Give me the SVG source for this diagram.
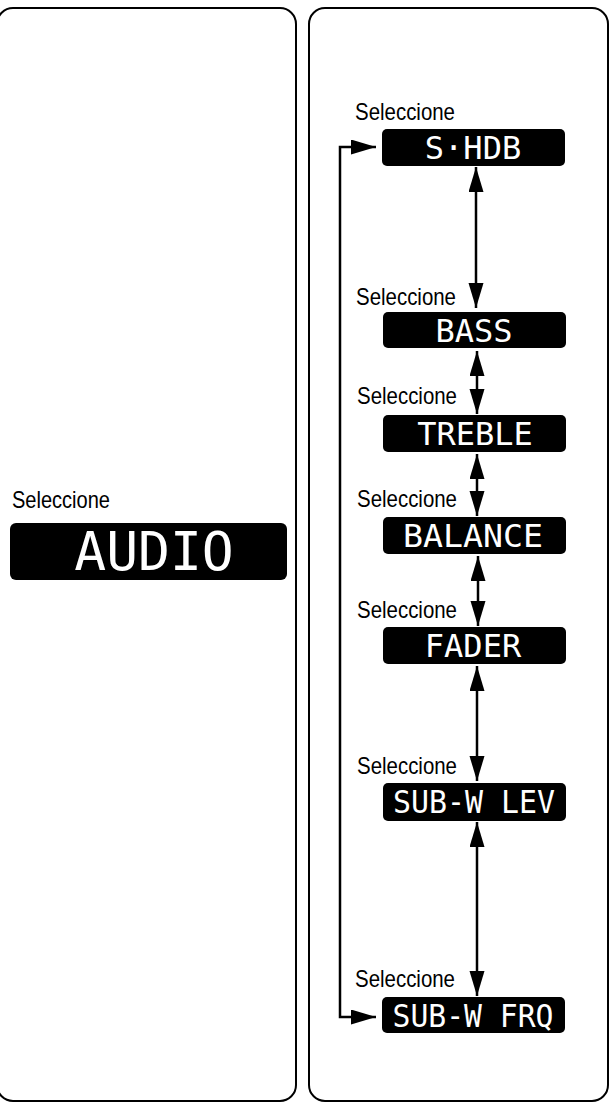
<svg xmlns="http://www.w3.org/2000/svg" width="610" height="1104" viewBox="0 0 610 1104">
<style>
.panel{fill:none;stroke:#000;stroke-width:2}
.lcd{fill:#000}
.lcdt{fill:#fff;font-family:"DejaVu Sans Mono","Liberation Mono",monospace;font-size:32px;text-anchor:middle}
.sel{fill:#000;font-family:"Liberation Sans",Arial,sans-serif;font-size:24px}
.conn{fill:none;stroke:#000;stroke-width:2.5}
</style>
<defs>
<marker id="ah" markerUnits="userSpaceOnUse" markerWidth="26" markerHeight="16" refX="25" refY="7.5" orient="auto-start-reverse">
<polygon points="0,0 25,7.5 0,15" fill="#000"/>
</marker>
</defs>
<rect class="panel" x="-3" y="8" width="299" height="1093" rx="16"/>
<rect class="panel" x="309" y="8" width="299" height="1093" rx="16"/>

<g id="node-audio">
<text class="sel" x="12" y="508" textLength="98" lengthAdjust="spacingAndGlyphs">Seleccione</text>
<rect class="lcd" x="10" y="523" width="277" height="57" rx="6"/>
<text class="lcdt" x="154" y="570" style="font-size:53px">AUDIO</text>
</g>

<g id="node-shdb">
<text class="sel" x="355" y="120" textLength="100" lengthAdjust="spacingAndGlyphs">Seleccione</text>
<rect class="lcd" x="382" y="129" width="183" height="37" rx="5"/>
<text class="lcdt" x="473" y="159">S·HDB</text>
</g>
<g id="node-bass">
<text class="sel" x="356" y="305" textLength="100" lengthAdjust="spacingAndGlyphs">Seleccione</text>
<rect class="lcd" x="383" y="312" width="183" height="36" rx="5"/>
<text class="lcdt" x="474" y="342">BASS</text>
</g>
<g id="node-treble">
<text class="sel" x="357" y="404" textLength="100" lengthAdjust="spacingAndGlyphs">Seleccione</text>
<rect class="lcd" x="383" y="415" width="183" height="37" rx="5"/>
<text class="lcdt" x="475" y="445">TREBLE</text>
</g>
<g id="node-balance">
<text class="sel" x="357" y="507" textLength="100" lengthAdjust="spacingAndGlyphs">Seleccione</text>
<rect class="lcd" x="383" y="517" width="183" height="37" rx="5"/>
<text class="lcdt" x="473" y="547" textLength="140" lengthAdjust="spacingAndGlyphs">BALANCE</text>
</g>
<g id="node-fader">
<text class="sel" x="357" y="618" textLength="100" lengthAdjust="spacingAndGlyphs">Seleccione</text>
<rect class="lcd" x="383" y="627" width="183" height="37" rx="5"/>
<text class="lcdt" x="473" y="657">FADER</text>
</g>
<g id="node-subwlev">
<text class="sel" x="357" y="774" textLength="100" lengthAdjust="spacingAndGlyphs">Seleccione</text>
<rect class="lcd" x="383" y="783" width="183" height="38" rx="5"/>
<text class="lcdt" x="474" y="813" textLength="162" lengthAdjust="spacingAndGlyphs">SUB-W LEV</text>
</g>
<g id="node-subwfrq">
<text class="sel" x="355" y="987" textLength="100" lengthAdjust="spacingAndGlyphs">Seleccione</text>
<rect class="lcd" x="382" y="997" width="183" height="36" rx="5"/>
<text class="lcdt" x="473" y="1027" textLength="161" lengthAdjust="spacingAndGlyphs">SUB-W FRQ</text>
</g>

<g id="connectors">
<line class="conn" x1="476" y1="167" x2="476" y2="308" marker-start="url(#ah)" marker-end="url(#ah)"/>
<line class="conn" x1="477" y1="351" x2="477" y2="414" marker-start="url(#ah)" marker-end="url(#ah)"/>
<line class="conn" x1="477" y1="454" x2="477" y2="516" marker-start="url(#ah)" marker-end="url(#ah)"/>
<line class="conn" x1="478" y1="556" x2="478" y2="626" marker-start="url(#ah)" marker-end="url(#ah)"/>
<line class="conn" x1="477" y1="666" x2="477" y2="781" marker-start="url(#ah)" marker-end="url(#ah)"/>
<line class="conn" x1="477" y1="822" x2="477" y2="996" marker-start="url(#ah)" marker-end="url(#ah)"/>
<path class="conn" d="M376,147 H340 V1017 H376" marker-start="url(#ah)" marker-end="url(#ah)"/>
</g>
</svg>
